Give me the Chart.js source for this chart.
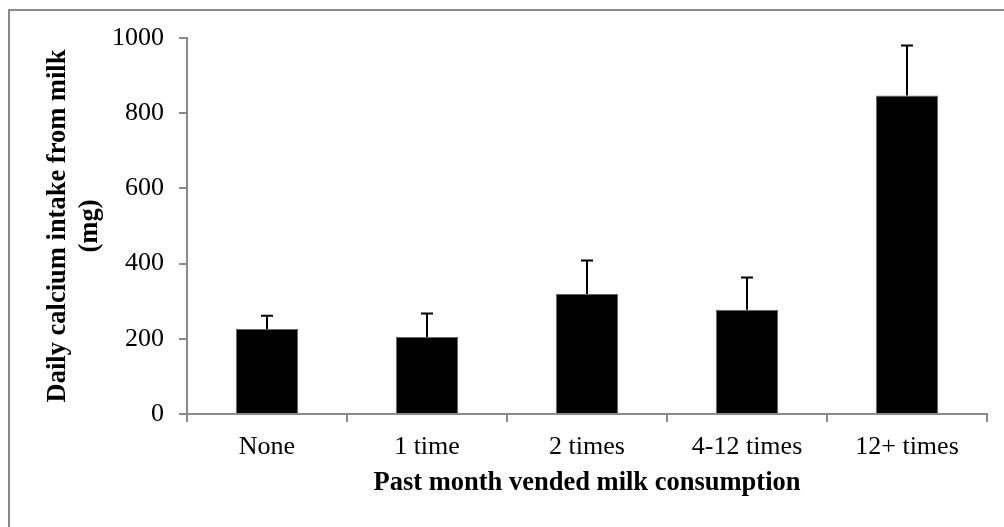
<!DOCTYPE html>
<html>
<head>
<meta charset="utf-8">
<script src="https://cdn.jsdelivr.net/npm/chart.js@4"></script>
<style>
  html, body { margin: 0; padding: 0; background: #fff; }
  #wrap { width: 1004px; height: 527px; position: relative; }
</style>
</head>
<body>
<div id="wrap"><canvas id="chart" width="1004" height="527"></canvas></div>
<script>
// categories and values
const labels = ['None', '1 time', '2 times', '4-12 times', '12+ times'];
const meanCalcium = [226, 205, 319, 277, 847];
const errorUp = [35, 62, 89, 86, 133];
const yTicks = { min: 0, max: 1000, step: 200 };

const serif = "'Liberation Serif', 'Times New Roman', serif";

// outer frame (only top and left edges show in the picture)
const framePlugin = {
  id: 'frame',
  beforeDraw(c) {
    const ctx = c.ctx;
    ctx.save();
    ctx.strokeStyle = '#8a8a8a';
    ctx.lineWidth = 2;
    ctx.strokeRect(9, 10, c.width + 20, c.height + 20);
    ctx.restore();
  }
};

// upward error bars with a small cap
const errorPlugin = {
  id: 'errorBars',
  afterDatasetsDraw(c) {
    const ctx = c.ctx;
    const meta = c.getDatasetMeta(0);
    const y = c.scales.y;
    ctx.save();
    ctx.strokeStyle = '#000';
    ctx.lineWidth = 2;
    meta.data.forEach((bar, i) => {
      const yTop = y.getPixelForValue(meanCalcium[i] + errorUp[i]);
      ctx.beginPath();
      ctx.moveTo(bar.x, bar.y);
      ctx.lineTo(bar.x, yTop);
      ctx.moveTo(bar.x - 6, yTop);
      ctx.lineTo(bar.x + 6, yTop);
      ctx.stroke();
    });
    ctx.restore();
  }
};

new Chart(document.getElementById('chart').getContext('2d'), {
  type: 'bar',
  data: {
    labels: labels,
    datasets: [{
      data: meanCalcium,
      backgroundColor: '#000',
      borderColor: '#666',
      borderWidth: 1,
      barPercentage: 0.39,
      categoryPercentage: 1
    }]
  },
  options: {
    responsive: false,
    animation: false,
    layout: { padding: { left: 0, right: 17, top: 38, bottom: 0 } },
    plugins: { legend: { display: false }, tooltip: { enabled: false } },
    scales: {
      x: {
        afterFit(s) { s.height = 113; },
        border: { color: '#8a8a8a', width: 2 },
        grid: { display: true, drawOnChartArea: false, drawTicks: true, tickLength: 8, color: '#8a8a8a', lineWidth: 2, offset: true },
        ticks: { color: '#000', padding: 10, font: { family: serif, size: 26 } },
        title: {
          display: true,
          text: 'Past month vended milk consumption',
          color: '#000',
          font: { family: serif, size: 26.5, weight: 'bold' },
          padding: { top: 0, bottom: 28 }
        }
      },
      y: {
        min: yTicks.min,
        max: yTicks.max,
        afterFit(s) { s.width = 187; },
        border: { color: '#8a8a8a', width: 2 },
        grid: { display: true, drawOnChartArea: false, drawTicks: true, tickLength: 8, color: '#8a8a8a', lineWidth: 2 },
        ticks: {
          stepSize: yTicks.step,
          color: '#000',
          padding: 15,
          font: { family: serif, size: 26 },
          callback: v => String(v)
        },
        title: {
          display: true,
          text: ['Daily calcium intake from milk', '(mg)'],
          color: '#000',
          font: { family: serif, size: 26.5, weight: 'bold' },
          padding: { top: 42, bottom: 0 }
        }
      }
    }
  },
  plugins: [framePlugin, errorPlugin]
});
</script>
</body>
</html>
